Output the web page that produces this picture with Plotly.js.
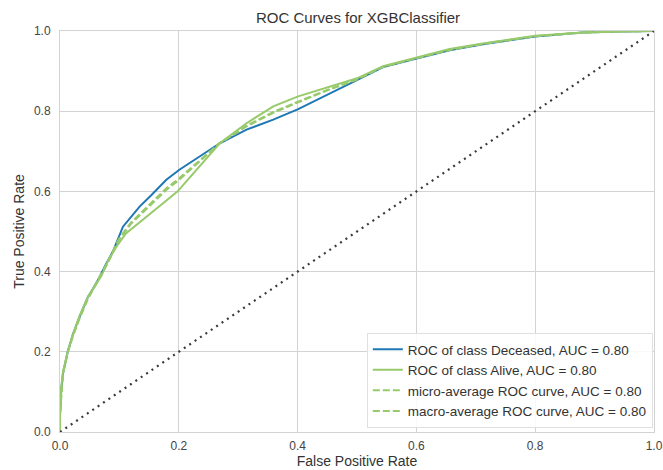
<!DOCTYPE html>
<html>
<head>
<meta charset="utf-8">
<script src="https://cdn.plot.ly/plotly-3.0.1.min.js"></script>
<style>html,body{margin:0;padding:0;background:#fff;}#chart{width:663px;height:470px;}</style>
</head>
<body>
<div id="chart"></div>
<script>
// ROC of class Deceased
const decFpr = [0, 0, 0.002, 0.005, 0.013, 0.022, 0.033, 0.047, 0.055, 0.064, 0.078, 0.089, 0.106, 0.12, 0.134, 0.154, 0.179, 0.201, 0.235, 0.269, 0.314, 0.359, 0.401, 0.465, 0.5, 0.544, 0.602, 0.656, 0.712, 0.8, 0.88, 0.94, 1.0];
const decTpr = [0, 0.04, 0.104, 0.145, 0.2, 0.245, 0.287, 0.337, 0.356, 0.379, 0.42, 0.45, 0.512, 0.537, 0.562, 0.591, 0.629, 0.654, 0.687, 0.72, 0.754, 0.779, 0.805, 0.852, 0.876, 0.91, 0.932, 0.952, 0.967, 0.986, 0.996, 0.999, 1.0];
// ROC of class Alive
const aliveFpr = [0, 0, 0.002, 0.005, 0.013, 0.022, 0.033, 0.047, 0.055, 0.07, 0.082, 0.095, 0.111, 0.14, 0.173, 0.198, 0.215, 0.235, 0.269, 0.314, 0.359, 0.401, 0.437, 0.5, 0.544, 0.602, 0.656, 0.712, 0.8, 0.88, 0.94, 1.0];
const aliveTpr = [0, 0.05, 0.11, 0.15, 0.2, 0.245, 0.29, 0.337, 0.355, 0.39, 0.43, 0.462, 0.495, 0.529, 0.57, 0.6, 0.629, 0.662, 0.72, 0.77, 0.812, 0.837, 0.854, 0.882, 0.912, 0.935, 0.955, 0.969, 0.988, 0.996, 0.999, 1.0];
// micro-average ROC
const microFpr = [0, 0, 0.005, 0.013, 0.022, 0.033, 0.047, 0.064, 0.08, 0.1, 0.12, 0.14, 0.16, 0.18, 0.2, 0.235, 0.269, 0.314, 0.359, 0.401, 0.45, 0.5, 0.544, 0.602, 0.656, 0.712, 0.8, 0.88, 0.94, 1.0];
const microTpr = [0, 0.045, 0.145, 0.198, 0.24, 0.283, 0.332, 0.378, 0.42, 0.48, 0.52, 0.548, 0.577, 0.605, 0.628, 0.675, 0.72, 0.762, 0.796, 0.822, 0.852, 0.879, 0.911, 0.933, 0.953, 0.968, 0.987, 0.996, 0.999, 1.0];
// macro-average ROC
const macroFpr = [0, 0, 0.005, 0.013, 0.022, 0.033, 0.047, 0.064, 0.08, 0.1, 0.12, 0.14, 0.16, 0.18, 0.2, 0.235, 0.269, 0.314, 0.359, 0.401, 0.45, 0.5, 0.544, 0.602, 0.656, 0.712, 0.8, 0.88, 0.94, 1.0];
const macroTpr = [0, 0.045, 0.147, 0.2, 0.243, 0.286, 0.334, 0.38, 0.423, 0.484, 0.523, 0.552, 0.581, 0.609, 0.632, 0.678, 0.721, 0.764, 0.798, 0.824, 0.853, 0.88, 0.911, 0.933, 0.953, 0.968, 0.987, 0.996, 0.999, 1.0];
// chance diagonal
const diagX = [0, 1];
const diagY = [0, 1];
const tickVals = [0, 0.2, 0.4, 0.6, 0.8, 1.0];
const tickText = ['0.0', '0.2', '0.4', '0.6', '0.8', '1.0'];
const names = ['ROC of class Deceased, AUC = 0.80', 'ROC of class Alive, AUC = 0.80', 'micro-average ROC curve, AUC = 0.80', 'macro-average ROC curve, AUC = 0.80'];

const FONT = 'Liberation Sans, Arial, sans-serif';
const blue = '#1f78b4';
const green = '#98ca6c';
const traces = [
  {x: decFpr, y: decTpr, name: names[0], mode: 'lines', line: {color: blue, width: 2}},
  {x: aliveFpr, y: aliveTpr, name: names[1], mode: 'lines', line: {color: green, width: 2}},
  {x: microFpr, y: microTpr, name: names[2], mode: 'lines', line: {color: green, width: 2, dash: '7px,3px'}},
  {x: macroFpr, y: macroTpr, name: names[3], mode: 'lines', line: {color: green, width: 2, dash: '7px,3px'}},
  {x: diagX, y: diagY, mode: 'lines', showlegend: false, line: {color: '#3a3a3a', width: 2.2, dash: '2px,4.5px'}}
];
const axisCommon = {
  range: [0, 1], tickvals: tickVals, ticktext: tickText,
  showgrid: true, gridcolor: '#d3d3d3', gridwidth: 1,
  showline: true, mirror: true, linecolor: '#d3d3d3', linewidth: 1,
  zeroline: false, ticks: '',
  tickfont: {family: FONT, size: 12, color: '#444'},
  fixedrange: true
};
const layout = {
  width: 663, height: 470,
  margin: {l: 60, r: 9, t: 31, b: 38},
  paper_bgcolor: '#fff', plot_bgcolor: '#fff',
  title: {text: 'ROC Curves for XGBClassifier', x: 0.54, xanchor: 'center', y: 0.962, yanchor: 'middle',
          font: {family: FONT, size: 15, color: '#333'}},
  xaxis: Object.assign({}, axisCommon, {
    title: {text: 'False Positive Rate', standoff: 3, font: {family: FONT, size: 14, color: '#333'}},
    ticklabelstandoff: 3
  }),
  yaxis: Object.assign({}, axisCommon, {
    title: {text: 'True Positive Rate', standoff: 6, font: {family: FONT, size: 14, color: '#333'}},
    ticklabelstandoff: 6
  }),
  legend: {
    x: 0.998, xanchor: 'right', y: 0.01, yanchor: 'bottom',
    bgcolor: 'rgba(255,255,255,0.85)', bordercolor: '#e0e0e0', borderwidth: 1,
    font: {family: FONT, size: 13.5, color: '#333'},
    itemwidth: 30, tracegroupgap: 0
  },
  showlegend: true
};
Plotly.newPlot('chart', traces, layout, {staticPlot: true, displayModeBar: false});
</script>
</body>
</html>
